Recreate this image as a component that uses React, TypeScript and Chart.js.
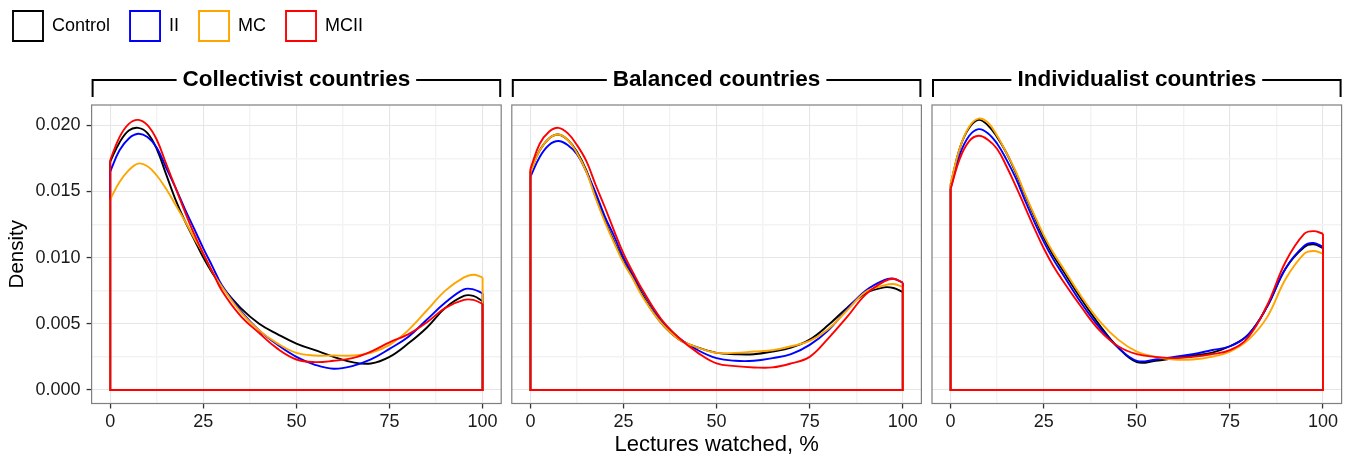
import React, { useEffect, useRef } from 'react';
import { Chart, registerables } from 'chart.js';

Chart.register(...registerables);

const FONT_FAMILY = '"Liberation Sans", Arial, Helvetica, sans-serif';

// ---------- data ----------
const SERIES = ['Control', 'II', 'MC', 'MCII'];
const SERIES_COLORS = ['#000000', '#0000FF', '#FFA500', '#FF0000'];
const FACETS = ['Collectivist countries', 'Balanced countries', 'Individualist countries'];

const LECTURES_WATCHED = [0, 2.5, 5, 7.5, 10, 12.5, 15, 17.5, 20, 22.5, 25, 27.5, 30, 35, 40, 45, 50, 55, 60, 65, 70, 75, 80, 85, 90, 95, 97.5, 100];

const X_TICKS = [0, 12.5, 25, 37.5, 50, 62.5, 75, 87.5, 100];
const X_LABELED = [0, 25, 50, 75, 100];
const Y_TICKS = [0, 0.0025, 0.005, 0.0075, 0.01, 0.0125, 0.015, 0.0175, 0.02];
const Y_LABELED = [0, 0.005, 0.01, 0.015, 0.02];
const X_MIN = -5;
const X_MAX = 105;
const Y_MIN = -0.001025;
const Y_MAX = 0.021525;

const COLLECTIVIST_CONTROL = [0.01725, 0.0187, 0.0196, 0.0198, 0.0194, 0.0182, 0.0163, 0.0144, 0.0128, 0.0114, 0.0100, 0.0088, 0.0078, 0.0062, 0.0050, 0.0042, 0.0035, 0.0030, 0.0025, 0.0021, 0.0020, 0.0025, 0.0035, 0.0047, 0.0062, 0.0071, 0.0071, 0.0067];
const COLLECTIVIST_II = [0.0165, 0.0181, 0.0190, 0.01935, 0.0191, 0.0183, 0.0168, 0.0153, 0.0137, 0.0122, 0.0107, 0.0093, 0.0079, 0.0060, 0.0045, 0.0034, 0.0025, 0.0019, 0.0016, 0.0018, 0.0023, 0.0031, 0.0040, 0.0053, 0.0066, 0.0076, 0.0076, 0.0073];
const COLLECTIVIST_MC = [0.0144, 0.0157, 0.0166, 0.0171, 0.0169, 0.0162, 0.0152, 0.0140, 0.0128, 0.0115, 0.0103, 0.0089, 0.0078, 0.0059, 0.0045, 0.0035, 0.0028, 0.0026, 0.0026, 0.0026, 0.0028, 0.0034, 0.0045, 0.0060, 0.0075, 0.0085, 0.0087, 0.0085];
const COLLECTIVIST_MCII = [0.01737, 0.0191, 0.0201, 0.0204, 0.0200, 0.0189, 0.0171, 0.0153, 0.0135, 0.0118, 0.0103, 0.0089, 0.0075, 0.0056, 0.0043, 0.0031, 0.0023, 0.0021, 0.0022, 0.0024, 0.0029, 0.0036, 0.0042, 0.0051, 0.0062, 0.0068, 0.0068, 0.0065];

const BALANCED_CONTROL = [0.0165, 0.0181, 0.0190, 0.0193, 0.0189, 0.0180, 0.0166, 0.0146, 0.0128, 0.0112, 0.0097, 0.0085, 0.0072, 0.0051, 0.0038, 0.0032, 0.0028, 0.0027, 0.0027, 0.0029, 0.0032, 0.0038, 0.0049, 0.0062, 0.0073, 0.00775, 0.0077, 0.0074];
const BALANCED_II = [0.0161, 0.0176, 0.0185, 0.0188, 0.0185, 0.0178, 0.0165, 0.0149, 0.0131, 0.0116, 0.0100, 0.0087, 0.0075, 0.0053, 0.0039, 0.0030, 0.0024, 0.0022, 0.0022, 0.0024, 0.0027, 0.0034, 0.0045, 0.0061, 0.0075, 0.0083, 0.0084, 0.0081];
const BALANCED_MC = [0.0164, 0.0181, 0.0190, 0.0193, 0.0189, 0.0179, 0.0165, 0.0145, 0.0127, 0.0111, 0.0096, 0.0084, 0.0071, 0.0051, 0.0038, 0.0032, 0.0028, 0.0028, 0.0029, 0.0030, 0.0033, 0.0037, 0.0046, 0.0060, 0.0074, 0.0079, 0.0080, 0.0078];
const BALANCED_MCII = [0.0167, 0.0186, 0.0195, 0.0198, 0.0194, 0.0185, 0.0173, 0.0155, 0.0138, 0.0120, 0.0103, 0.0089, 0.0076, 0.0054, 0.0039, 0.0028, 0.0020, 0.0018, 0.0017, 0.0017, 0.0020, 0.0025, 0.0039, 0.0055, 0.0072, 0.0082, 0.0084, 0.0081];

const INDIVIDUALIST_CONTROL = [0.0155, 0.0183, 0.0198, 0.0204, 0.0200, 0.0191, 0.0179, 0.0164, 0.0147, 0.0131, 0.0115, 0.0102, 0.0091, 0.0069, 0.0049, 0.0032, 0.0021, 0.0022, 0.0024, 0.0026, 0.0028, 0.0033, 0.0042, 0.0063, 0.0092, 0.0108, 0.0110, 0.0107];
const INDIVIDUALIST_II = [0.0152, 0.0178, 0.0192, 0.0197, 0.0194, 0.0186, 0.0174, 0.0160, 0.0143, 0.0127, 0.0112, 0.0099, 0.0088, 0.0066, 0.0047, 0.0032, 0.0022, 0.0023, 0.0025, 0.0027, 0.0030, 0.0033, 0.0042, 0.0063, 0.0092, 0.0109, 0.0111, 0.0108];
const INDIVIDUALIST_MC = [0.0156, 0.0183, 0.0199, 0.0205, 0.0202, 0.0192, 0.0179, 0.0165, 0.0148, 0.0132, 0.0117, 0.0104, 0.0093, 0.0071, 0.0052, 0.0038, 0.0029, 0.0025, 0.0023, 0.0023, 0.0025, 0.0029, 0.0038, 0.0055, 0.0084, 0.0103, 0.0105, 0.0103];
const INDIVIDUALIST_MCII = [0.0152, 0.0175, 0.0188, 0.0192, 0.0189, 0.0182, 0.0169, 0.0154, 0.0138, 0.0122, 0.0107, 0.0094, 0.0083, 0.0063, 0.0045, 0.0033, 0.0027, 0.0025, 0.0024, 0.0025, 0.0027, 0.0030, 0.0040, 0.0064, 0.0097, 0.0118, 0.0120, 0.0118];

const FACET_DENSITIES = [
  [COLLECTIVIST_CONTROL, COLLECTIVIST_II, COLLECTIVIST_MC, COLLECTIVIST_MCII],
  [BALANCED_CONTROL, BALANCED_II, BALANCED_MC, BALANCED_MCII],
  [INDIVIDUALIST_CONTROL, INDIVIDUALIST_II, INDIVIDUALIST_MC, INDIVIDUALIST_MCII],
];

// ---------- layout / style ----------
const PANEL_TOP = 105; // page y of panel top
const STRIP_SIZE = 22.5;
const STRIP_LH = STRIP_SIZE * 1.2;
const STRIP_GAP = 11.5;
const X_AXIS_HEIGHT = 56;

const CANVASES = [
  { left: -7, top: -9, width: 512, height: 471, padLeft: 0, padRight: 3.8, padBottom: 2.5, yWidth: 98.6 },
  { left: 505, top: 0, width: 421, height: 462, padLeft: 6.8, padRight: 4.6, padBottom: 2.5, yWidth: 0 },
  { left: 926, top: 0, width: 431, height: 462, padLeft: 6.0, padRight: 15.4, padBottom: 2.5, yWidth: 0 },
];

const isOn = (v: number, list: number[]) => list.some((t) => Math.abs(t - v) < 1e-9);

const panelDecor = {
  id: 'panelDecor',
  afterDraw(chart: any) {
    const { ctx, chartArea: a } = chart;
    const label = chart.options.plugins.title.text;
    ctx.save();
    ctx.strokeStyle = '#7F7F7F';
    ctx.lineWidth = 1.2;
    ctx.strokeRect(a.left, a.top, a.right - a.left, a.bottom - a.top);
    ctx.font = `bold ${STRIP_SIZE}px ${FONT_FAMILY}`;
    const w = ctx.measureText(label).width;
    const cx = (a.left + a.right) / 2;
    const ly = a.top - STRIP_GAP - STRIP_LH / 2;
    ctx.strokeStyle = '#000000';
    ctx.lineWidth = 2;
    ctx.beginPath();
    ctx.moveTo(a.left + 1, a.top - 8);
    ctx.lineTo(a.left + 1, ly);
    ctx.lineTo(cx - w / 2 - 6, ly);
    ctx.moveTo(cx + w / 2 + 6, ly);
    ctx.lineTo(a.right - 1, ly);
    ctx.lineTo(a.right - 1, a.top - 8);
    ctx.stroke();
    ctx.restore();
  },
};

function buildDatasets(facet: number) {
  const dens = FACET_DENSITIES[facet];
  const last = LECTURES_WATCHED.length - 1;
  const curves = SERIES.map((name, s) => ({
    label: name,
    data: LECTURES_WATCHED.map((x, i) => ({ x, y: dens[s][i] })),
    borderColor: SERIES_COLORS[s],
    backgroundColor: '#FFFFFF',
    borderWidth: 1.9,
    pointRadius: 0,
    pointHoverRadius: 0,
    tension: 0.4,
    fill: false,
    order: 3 - s,
  }));
  const outlines = SERIES.map((name, s) => ({
    label: name + ' outline',
    data: [
      { x: LECTURES_WATCHED[0], y: dens[s][0] },
      { x: LECTURES_WATCHED[0], y: 0 },
      { x: LECTURES_WATCHED[last], y: 0 },
      { x: LECTURES_WATCHED[last], y: dens[s][last] },
    ],
    borderColor: SERIES_COLORS[s],
    backgroundColor: '#FFFFFF',
    borderWidth: 1.9,
    pointRadius: 0,
    pointHoverRadius: 0,
    tension: 0,
    fill: false,
    order: 3 - s,
  }));
  return [...curves, ...outlines];
}

function makeChart(canvas: HTMLCanvasElement, facet: number) {
  const cfg = CANVASES[facet];
  const first = facet === 0;
  const middle = facet === 1;
  const tickFont = { family: FONT_FAMILY, size: 18 };
  const chart = new Chart(canvas, {
    type: 'line',
    data: { datasets: buildDatasets(facet) as any },
    plugins: [panelDecor],
    options: {
      animation: false,
      responsive: false,
      devicePixelRatio: 1,
      events: [],
      layout: {
        autoPadding: false,
        padding: { top: 0, left: cfg.padLeft, right: cfg.padRight, bottom: cfg.padBottom },
      },
      plugins: {
        tooltip: { enabled: false },
        legend: {
          display: first,
          position: 'top',
          align: 'start',
          labels: {
            boxWidth: 30,
            boxHeight: 30,
            padding: 20,
            color: '#000000',
            font: { family: FONT_FAMILY, size: 18 },
            filter: (item: any) => item.datasetIndex < SERIES.length,
            sort: (a: any, b: any) => a.datasetIndex - b.datasetIndex,
          },
        },
        title: {
          display: true,
          text: FACETS[facet],
          position: 'top',
          fullSize: false,
          weight: 500,
          align: 'center',
          color: '#000000',
          font: { family: FONT_FAMILY, size: STRIP_SIZE, weight: 'bold', lineHeight: 1.2 },
          padding: { top: 0, bottom: STRIP_GAP },
        },
      },
      scales: {
        x: {
          type: 'linear',
          min: X_MIN,
          max: X_MAX,
          afterBuildTicks: (s: any) => {
            s.ticks = X_TICKS.map((v) => ({ value: v }));
          },
          afterFit: (s: any) => {
            s.height = X_AXIS_HEIGHT;
          },
          border: { display: false },
          grid: {
            color: (c: any) => (isOn(c.tick.value, X_LABELED) ? '#E6E6E6' : '#F3F3F3'),
            lineWidth: (c: any) => (isOn(c.tick.value, X_LABELED) ? 1.1 : 1.4),
            tickColor: (c: any) => (isOn(c.tick.value, X_LABELED) ? '#333333' : 'rgba(0,0,0,0)'),
            tickLength: 5,
            tickWidth: 1.3,
            drawTicks: true,
          },
          ticks: {
            autoSkip: false,
            maxRotation: 0,
            padding: 3,
            color: '#1A1A1A',
            font: tickFont,
            callback: (v: any) => (isOn(Number(v), X_LABELED) ? String(v) : ''),
          },
          title: {
            display: middle,
            text: 'Lectures watched, %',
            color: '#000000',
            font: { family: FONT_FAMILY, size: 22 },
            padding: { top: 0, bottom: 1.5 },
          },
        },
        y: {
          type: 'linear',
          min: Y_MIN,
          max: Y_MAX,
          afterBuildTicks: (s: any) => {
            s.ticks = Y_TICKS.map((v) => ({ value: v }));
          },
          afterFit: (s: any) => {
            s.width = cfg.yWidth;
          },
          border: { display: false },
          grid: {
            color: (c: any) => (isOn(c.tick.value, Y_LABELED) ? '#E6E6E6' : '#F3F3F3'),
            lineWidth: (c: any) => (isOn(c.tick.value, Y_LABELED) ? 1.1 : 1.4),
            tickColor: (c: any) => (isOn(c.tick.value, Y_LABELED) ? '#333333' : 'rgba(0,0,0,0)'),
            tickLength: 5,
            tickWidth: 1.3,
            drawTicks: first,
          },
          ticks: {
            display: first,
            autoSkip: false,
            padding: 6,
            color: '#1A1A1A',
            font: tickFont,
            callback: (v: any) => (isOn(Number(v), Y_LABELED) ? Number(v).toFixed(3) : ''),
          },
          title: {
            display: first,
            text: 'Density',
            color: '#000000',
            font: { family: FONT_FAMILY, size: 20.5 },
            padding: { top: 12, bottom: 0 },
          },
        },
      },
    } as any,
  });
  // place the strip so that the panel top lands on PANEL_TOP (page coordinates)
  const delta = PANEL_TOP - cfg.top - chart.chartArea.top;
  (chart.options.plugins as any).title.padding = { top: Math.max(0, delta), bottom: STRIP_GAP };
  chart.update();
  return chart;
}

export default function App() {
  const r0 = useRef<HTMLCanvasElement>(null);
  const r1 = useRef<HTMLCanvasElement>(null);
  const r2 = useRef<HTMLCanvasElement>(null);

  useEffect(() => {
    const refs = [r0, r1, r2];
    const charts = refs.map((r, i) => makeChart(r.current as HTMLCanvasElement, i));
    return () => charts.forEach((c) => c.destroy());
  }, []);

  const refs = [r0, r1, r2];
  return (
    <div
      style={{
        position: 'absolute',
        left: 0,
        top: 0,
        width: 1357,
        height: 459,
        overflow: 'hidden',
        background: '#FFFFFF',
      }}
    >
      {CANVASES.map((c, i) => (
        <canvas
          key={i}
          ref={refs[i]}
          width={c.width}
          height={c.height}
          style={{ position: 'absolute', left: c.left, top: c.top, width: c.width, height: c.height }}
        />
      ))}
    </div>
  );
}
